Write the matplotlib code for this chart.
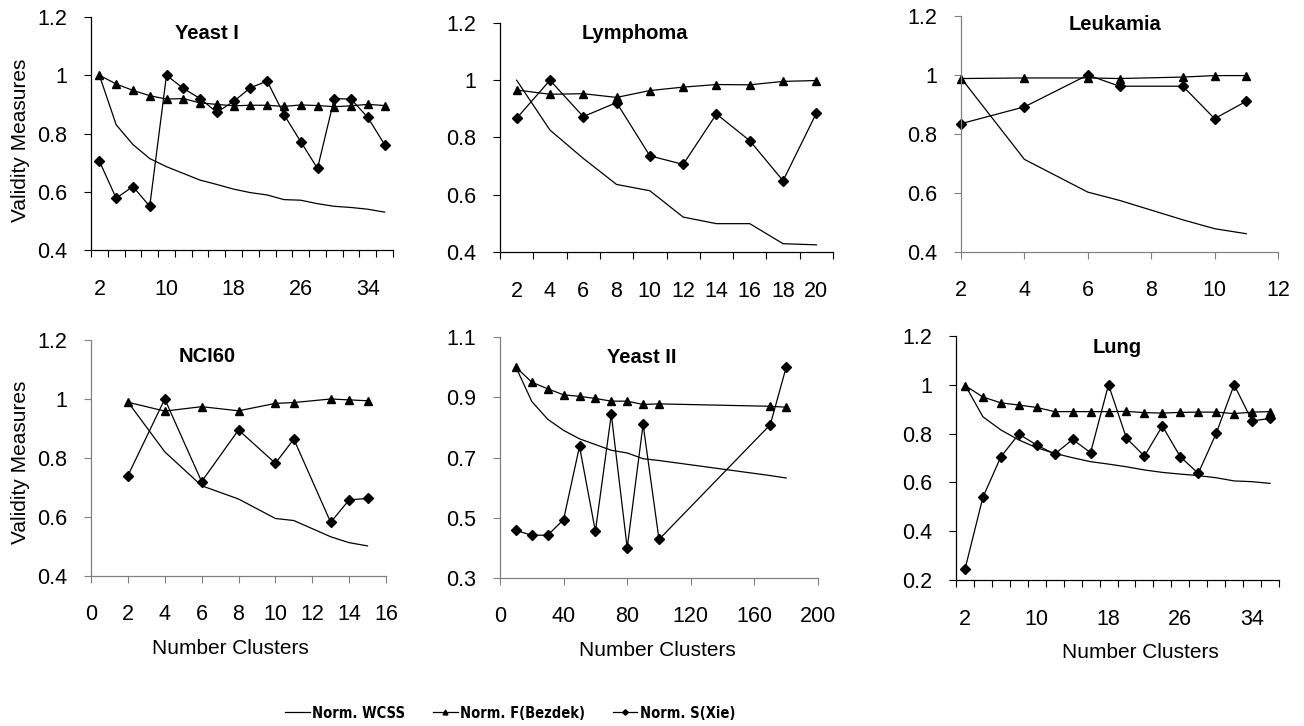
import numpy as np
import matplotlib.pyplot as plt
from matplotlib import font_manager

# %%
"""
Fonts
"""
fonts = font_manager.fontManager.ttflist
names = {f.name for f in fonts}
base_font = 'Liberation Sans' if 'Liberation Sans' in names else 'DejaVu Sans'
plt.rcParams['font.family'] = base_font

# the legend uses a narrow bold face in the original
legend_prop = dict(family=base_font, weight='bold', size=10.5)
if 'Liberation Sans Narrow' in names:
    legend_prop = dict(family='Liberation Sans Narrow', weight='bold', size=12.5)
elif any(f.name == 'DejaVu Sans' and f.stretch == 'condensed' for f in fonts):
    legend_prop = dict(family='DejaVu Sans', stretch='condensed', weight='bold', size=10.5)

# %%
"""
Data read off the chart
"""
yeast1_k = [2, 4, 6, 8, 10, 12, 14, 16, 18, 20, 22, 24, 26, 28, 30, 32, 34, 36]
yeast1_wcss = [1.0, 0.83, 0.762, 0.714, 0.686, 0.663, 0.64, 0.625, 0.609, 0.597,
               0.589, 0.573, 0.571, 0.559, 0.55, 0.546, 0.54, 0.53]
yeast1_bezdek = [1.0, 0.97, 0.948, 0.93, 0.918, 0.92, 0.905, 0.9, 0.895, 0.897,
                 0.897, 0.893, 0.898, 0.896, 0.892, 0.895, 0.9, 0.896]
yeast1_xie = [0.705, 0.578, 0.618, 0.55, 1.0, 0.955, 0.92, 0.873, 0.91, 0.957,
              0.98, 0.865, 0.772, 0.68, 0.92, 0.918, 0.855, 0.762]

lymph_k = [2, 4, 6, 8, 10, 12, 14, 16, 18, 20]
lymph_wcss = [1.0, 0.826, 0.727, 0.636, 0.614, 0.522, 0.499, 0.499, 0.429, 0.425]
lymph_bezdek = [0.966, 0.951, 0.953, 0.94, 0.964, 0.976, 0.985, 0.984, 0.996, 0.999]
lymph_xie = [0.867, 1.0, 0.873, 0.922, 0.736, 0.706, 0.882, 0.789, 0.649, 0.885]

leuk_k = [2, 4, 6, 7, 9, 10, 11]
leuk_wcss = [0.99, 0.714, 0.603, 0.575, 0.509, 0.479, 0.462]
leuk_bezdek = [0.988, 0.99, 0.99, 0.988, 0.993, 0.998, 0.998]
leuk_xie = [0.835, 0.892, 1.0, 0.962, 0.962, 0.852, 0.911]

nci_k = [2, 4, 6, 8, 10, 11, 13, 14, 15]
nci_wcss = [0.99, 0.821, 0.706, 0.661, 0.595, 0.588, 0.533, 0.513, 0.502]
nci_bezdek = [0.989, 0.959, 0.974, 0.96, 0.985, 0.988, 1.0, 0.997, 0.994]
nci_xie = [0.74, 1.0, 0.72, 0.895, 0.782, 0.864, 0.582, 0.658, 0.663]

yeast2_k = [10, 20, 30, 40, 50, 60, 70, 80, 90, 100, 170, 180]
yeast2_wcss = [1.0, 0.886, 0.827, 0.79, 0.762, 0.743, 0.724, 0.715, 0.696, 0.69,
               0.64, 0.632]
yeast2_bezdek = [1.0, 0.95, 0.928, 0.908, 0.903, 0.896, 0.887, 0.887, 0.876, 0.878,
                 0.87, 0.867]
yeast2_xie = [0.458, 0.442, 0.442, 0.494, 0.737, 0.455, 0.843, 0.4, 0.81, 0.428,
              0.809, 1.0]

lung_k = [2, 4, 6, 8, 10, 12, 14, 16, 18, 20, 22, 24, 26, 28, 30, 32, 34, 36]
lung_wcss = [1.0, 0.869, 0.815, 0.774, 0.742, 0.719, 0.701, 0.685, 0.675, 0.664,
             0.651, 0.641, 0.634, 0.628, 0.619, 0.606, 0.603, 0.596]
lung_bezdek = [0.997, 0.95, 0.926, 0.917, 0.907, 0.89, 0.89, 0.89, 0.89, 0.891,
               0.886, 0.884, 0.887, 0.888, 0.888, 0.882, 0.888, 0.89]
lung_xie = [0.244, 0.539, 0.705, 0.798, 0.753, 0.716, 0.776, 0.722, 1.0, 0.781,
            0.708, 0.831, 0.705, 0.637, 0.801, 1.0, 0.852, 0.862]

# %%
"""
Panel layout: axes box in pixels and axis options
"""
W, H = 1304, 726

panels = [
    dict(title='Yeast I', k=yeast1_k, wcss=yeast1_wcss, bez=yeast1_bezdek, xie=yeast1_xie,
         box=(91, 17, 393, 250), cat=True, xlabels=[2, 10, 18, 26, 34],
         ylim=(0.4, 1.2), yticks=[0.4, 0.6, 0.8, 1.0, 1.2], tpos=(0.384, 0.93), spine='black'),
    dict(title='Lymphoma', k=lymph_k, wcss=lymph_wcss, bez=lymph_bezdek, xie=lymph_xie,
         box=(500, 23, 833, 252), cat=True, xlabels=lymph_k,
         ylim=(0.4, 1.2), yticks=[0.4, 0.6, 0.8, 1.0, 1.2], tpos=(0.405, 0.955), spine='black'),
    dict(title='Leukamia', k=leuk_k, wcss=leuk_wcss, bez=leuk_bezdek, xie=leuk_xie,
         box=(961, 16, 1278, 252), cat=False, xlim=(2, 12), xticks=[2, 4, 6, 8, 10, 12],
         ylim=(0.4, 1.2), yticks=[0.4, 0.6, 0.8, 1.0, 1.2], tpos=(0.486, 0.965), spine='#808080'),
    dict(title='NCI60', k=nci_k, wcss=nci_wcss, bez=nci_bezdek, xie=nci_xie,
         box=(91, 340, 386, 576), cat=False, xlim=(0, 16), xticks=[0, 2, 4, 6, 8, 10, 12, 14, 16],
         ylim=(0.4, 1.2), yticks=[0.4, 0.6, 0.8, 1.0, 1.2], tpos=(0.393, 0.928), spine='#808080'),
    dict(title='Yeast II', k=yeast2_k, wcss=yeast2_wcss, bez=yeast2_bezdek, xie=yeast2_xie,
         box=(500, 337, 818, 578), cat=False, xlim=(0, 200), xticks=[0, 40, 80, 120, 160, 200],
         ylim=(0.3, 1.1), yticks=[0.3, 0.5, 0.7, 0.9, 1.1], tpos=(0.447, 0.917), spine='#808080'),
    dict(title='Lung', k=lung_k, wcss=lung_wcss, bez=lung_bezdek, xie=lung_xie,
         box=(956, 336, 1279, 580), cat=True, xlabels=[2, 10, 18, 26, 34],
         ylim=(0.2, 1.2), yticks=[0.2, 0.4, 0.6, 0.8, 1.0, 1.2], tpos=(0.498, 0.951), spine='black'),
]

# %%
"""
Draw
"""
fig = plt.figure(figsize=(W / 100, H / 100), dpi=100)

for p in panels:
    x0, y0, x1, y1 = p['box']
    ax = fig.add_axes([x0 / W, 1 - y1 / H, (x1 - x0) / W, (y1 - y0) / H])
    lw = 0.9
    ax.plot(p['k'], p['wcss'], color='black', lw=lw, label='Norm. WCSS', clip_on=False)
    ax.plot(p['k'], p['bez'], color='black', lw=lw, marker='^', ms=6,
            label='Norm. F(Bezdek)', clip_on=False)
    ax.plot(p['k'], p['xie'], color='black', lw=lw, marker='D', ms=4.8,
            label='Norm. S(Xie)', clip_on=False)

    ax.set_ylim(*p['ylim'])
    ax.set_yticks(p['yticks'])
    ax.set_yticklabels([f'{v:g}' for v in p['yticks']])

    if p['cat']:
        k = p['k']
        ax.set_xlim(k[0] - 1, k[-1] + 1)
        ax.set_xticks(p['xlabels'])
        ax.set_xticklabels([str(v) for v in p['xlabels']])
        ax.set_xticks(np.arange(k[0] - 1, k[-1] + 2, 2), minor=True)
        ax.tick_params(axis='x', which='major', length=0, pad=21)
        ax.tick_params(axis='x', which='minor', length=5, width=0.8,
                       direction='out', color=p['spine'])
    else:
        ax.set_xlim(*p['xlim'])
        ax.set_xticks(p['xticks'])
        ax.tick_params(axis='x', which='major', length=5, width=0.8,
                       direction='out', pad=15, color=p['spine'])

    ax.tick_params(axis='y', length=5, width=0.8, direction='out', pad=12,
                   color=p['spine'])
    ax.tick_params(labelsize=15.5)
    for s in ['top', 'right']:
        ax.spines[s].set_visible(False)
    for s in ['left', 'bottom']:
        ax.spines[s].set_color(p['spine'])
        ax.spines[s].set_linewidth(0.9)

    ax.text(p['tpos'][0], p['tpos'][1], p['title'], transform=ax.transAxes,
            ha='center', va='center', fontsize=14.5, fontweight='bold')

# axis titles
for yc in [140, 462]:
    fig.text(21 / W, 1 - yc / H, 'Validity Measures', rotation=90,
             ha='center', va='center', fontsize=15)
for xc, yc in [(230, 649), (657, 651), (1140, 653)]:
    fig.text(xc / W, 1 - yc / H, 'Number Clusters', ha='center', va='center', fontsize=15)

# legend
handles = [
    plt.Line2D([], [], color='black', lw=0.9),
    plt.Line2D([], [], color='black', lw=0.9, marker='^', ms=3.5),
    plt.Line2D([], [], color='black', lw=0.9, marker='D', ms=2.8),
]
labels = ['Norm. WCSS', 'Norm. F(Bezdek)', 'Norm. S(Xie)']
fig.legend(handles, labels, loc='center', bbox_to_anchor=(510 / W, 1 - 713 / H),
           ncol=3, frameon=False, handlelength=1.7, handletextpad=0.15,
           columnspacing=1.9, prop=legend_prop)

fig.savefig('out.png', dpi=100)
